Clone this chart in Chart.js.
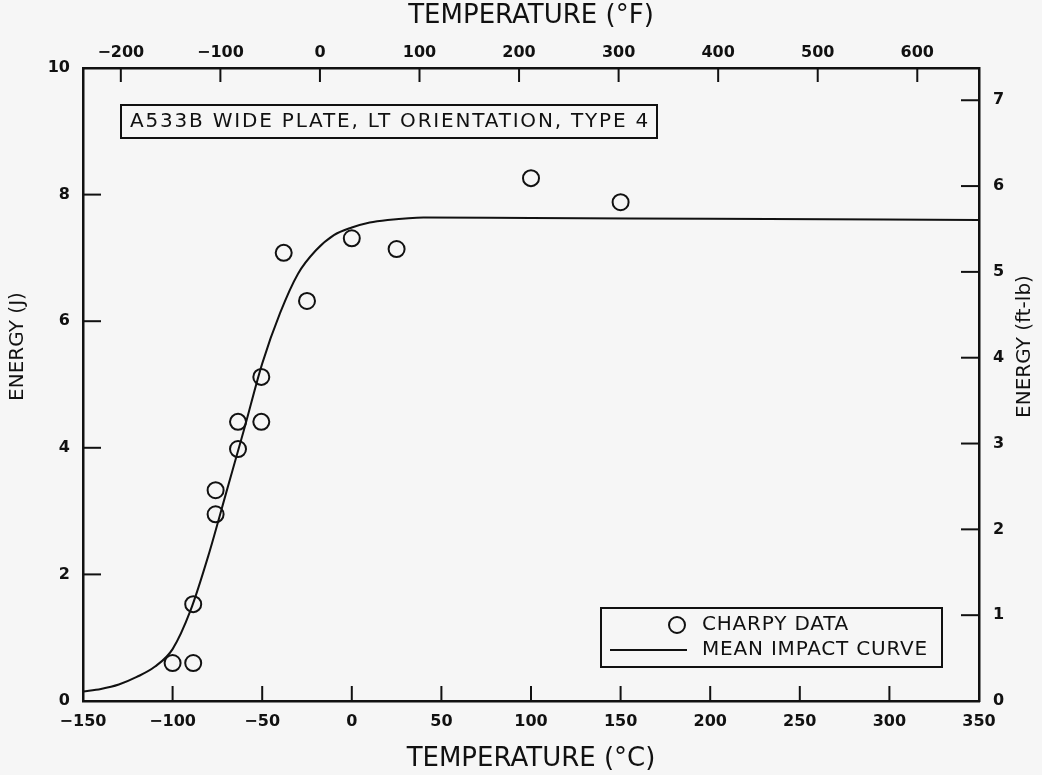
<!DOCTYPE html>
<html>
<head>
<meta charset="utf-8">
<title>Charpy energy vs temperature</title>
<script src="https://cdn.jsdelivr.net/npm/chart.js@4.4.1/dist/chart.umd.min.js"></script>
<style>
  html, body { margin: 0; padding: 0; background: #f6f6f6; }
  #wrap { width: 1042px; height: 775px; }
</style>
</head>
<body>
<div id="wrap"><canvas id="chart" width="1042" height="775"></canvas></div>
<script>
// Charpy test points: temperature (C) and absorbed energy (J)
const charpyTemp   = [-100, -88.5, -88.5, -76, -76, -63.5, -63.5, -50.5, -50.5, -38, -25, 0, 25, 100, 150];
const charpyEnergy = [0.60, 0.60, 1.53, 2.95, 3.33, 3.98, 4.41, 4.41, 5.12, 7.08, 6.32, 7.31, 7.14, 8.26, 7.88];

// mean impact curve
const curveTemp   = [-150, -140, -130, -120, -110, -100, -90, -80, -70, -60, -50, -40, -30, -20, -10, 0, 10, 20, 40, 100, 200, 350];
const curveEnergy = [0.15, 0.19, 0.26, 0.38, 0.54, 0.82, 1.43, 2.3, 3.3, 4.3, 5.33, 6.13, 6.75, 7.12, 7.36, 7.48, 7.56, 7.6, 7.64, 7.63, 7.62, 7.6];

// axis ticks
const celsiusTicks = [-150, -100, -50, 0, 50, 100, 150, 200, 250, 300, 350];
const fahrenheitTicks = [-200, -100, 0, 100, 200, 300, 400, 500, 600];
const jouleTicks = [0, 2, 4, 6, 8, 10];
const ftlbTicks = [0, 1, 2, 3, 4, 5, 6, 7];

const J_PER_FTLB = 1.3558;
const tMin = -150, tMax = 350, eMax = 10;
const toF = c => c * 1.8 + 32;

const ink = '#111';
const FONT = "'DejaVu Sans', sans-serif";
const minus = v => String(v).replace('-', '\u2212');
const setTicks = list => scale => { scale.ticks = list.map(v => ({ value: v })); };

// tick marks point into the plot, as on the original
const innerTicks = {
  id: 'innerTicks',
  afterDatasetsDraw(chart) {
    const { ctx, chartArea: a, scales } = chart;
    ctx.save();
    ctx.strokeStyle = ink;
    ctx.lineWidth = 2;
    const seg = (x1, y1, x2, y2) => { ctx.beginPath(); ctx.moveTo(x1, y1); ctx.lineTo(x2, y2); ctx.stroke(); };
    scales.x.ticks.forEach(t => {
      const p = scales.x.getPixelForValue(t.value);
      if (p > a.left + 2 && p < a.right - 2) seg(p, a.bottom, p, a.bottom - 15);
    });
    scales.x2.ticks.forEach(t => {
      const p = scales.x2.getPixelForValue(t.value);
      if (p > a.left + 2 && p < a.right - 2) seg(p, a.top, p, a.top + 14);
    });
    scales.y.ticks.forEach(t => {
      const p = scales.y.getPixelForValue(t.value);
      if (p > a.top + 2 && p < a.bottom - 2) seg(a.left, p, a.left + 18, p);
    });
    scales.y2.ticks.forEach(t => {
      const p = scales.y2.getPixelForValue(t.value);
      if (p > a.top + 2 && p < a.bottom - 2) seg(a.right, p, a.right - 18, p);
    });
    ctx.restore();
  }
};

// y titles, note box and legend
const decorations = {
  id: 'decorations',
  afterDraw(chart) {
    const { ctx, chartArea: a } = chart;
    const midY = a.top + (a.bottom - a.top) * 0.44;
    ctx.save();
    ctx.fillStyle = ink;
    ctx.strokeStyle = ink;
    ctx.textBaseline = 'middle';

    ctx.font = `20px ${FONT}`;
    ctx.textAlign = 'center';
    [[18, 'ENERGY (J)'], [chart.width - 17, 'ENERGY (ft-lb)']].forEach(([x, s]) => {
      ctx.save();
      ctx.translate(x, midY);
      ctx.rotate(-Math.PI / 2);
      ctx.fillText(s, 0, 0);
      ctx.restore();
    });

    // note box
    ctx.font = `20px ${FONT}`;
    ctx.textAlign = 'left';
    ctx.letterSpacing = '1.8px';
    const note = 'A533B WIDE PLATE, LT ORIENTATION, TYPE 4';
    const nx = a.left + 38, ny = a.top + 37;
    const nw = ctx.measureText(note).width + 16;
    ctx.lineWidth = 2;
    ctx.strokeRect(nx, ny, nw, 33);
    ctx.fillText(note, nx + 9, ny + 17);

    // legend box
    ctx.letterSpacing = '0.8px';
    const ds = chart.data.datasets;
    const lw = 341, lh = 59;
    const lx = a.right - 37 - lw, ly = a.bottom - 34 - lh;
    ctx.strokeRect(lx, ly, lw, lh);
    ctx.lineWidth = ds[0].borderWidth;
    ctx.beginPath();
    ctx.arc(lx + 76, ly + 17, ds[0].pointRadius, 0, Math.PI * 2);
    ctx.stroke();
    ctx.lineWidth = ds[1].borderWidth;
    ctx.beginPath();
    ctx.moveTo(lx + 9, ly + 42);
    ctx.lineTo(lx + 86, ly + 42);
    ctx.stroke();
    ctx.fillText(ds[0].label, lx + 101, ly + 17);
    ctx.fillText(ds[1].label, lx + 101, ly + 42);
    ctx.restore();
  }
};

const axisBorder = { display: true, color: ink, width: 2.5 };
const noGrid = { display: true, drawOnChartArea: false, drawTicks: false };
const tickFont = { family: FONT, size: 16, weight: 'bold' };
const titleFont = { family: FONT, size: 26 };

new Chart(document.getElementById('chart'), {
  type: 'scatter',
  data: {
    datasets: [
      {
        label: 'CHARPY DATA',
        data: charpyTemp.map((t, i) => ({ x: t, y: charpyEnergy[i] })),
        showLine: false,
        pointStyle: 'circle',
        pointRadius: 8,
        borderWidth: 2,
        borderColor: ink,
        backgroundColor: 'rgba(0,0,0,0)',
        order: 1
      },
      {
        label: 'MEAN IMPACT CURVE',
        data: curveTemp.map((t, i) => ({ x: t, y: curveEnergy[i] })),
        showLine: true,
        cubicInterpolationMode: 'monotone',
        pointRadius: 0,
        borderWidth: 2,
        borderColor: ink,
        backgroundColor: ink,
        order: 2
      }
    ]
  },
  options: {
    responsive: false,
    animation: false,
    layout: { padding: 0 },
    plugins: { legend: { display: false }, tooltip: { enabled: false } },
    scales: {
      x: {
        type: 'linear', position: 'bottom', min: tMin, max: tMax,
        afterBuildTicks: setTicks(celsiusTicks),
        afterFit: s => { s.height = 74; },
        grid: noGrid, border: axisBorder,
        ticks: { color: ink, font: tickFont, padding: 11, maxRotation: 0, callback: minus },
        title: { display: true, text: 'TEMPERATURE (\u00b0C)', color: ink, font: titleFont, padding: { top: 2, bottom: 0 } }
      },
      x2: {
        type: 'linear', position: 'top', min: toF(tMin), max: toF(tMax),
        afterBuildTicks: setTicks(fahrenheitTicks),
        afterFit: s => { s.height = 68; },
        grid: noGrid, border: axisBorder,
        ticks: { color: ink, font: tickFont, padding: 6, maxRotation: 0, callback: minus },
        title: { display: true, text: 'TEMPERATURE (\u00b0F)', color: ink, font: titleFont, padding: { top: 1, bottom: 0 } }
      },
      y: {
        type: 'linear', position: 'left', min: 0, max: eMax,
        afterBuildTicks: setTicks(jouleTicks),
        afterFit: s => { s.width = 83; },
        grid: noGrid, border: axisBorder,
        ticks: { color: ink, font: tickFont, padding: 13 }
      },
      y2: {
        type: 'linear', position: 'right', min: 0, max: eMax / J_PER_FTLB,
        afterBuildTicks: setTicks(ftlbTicks),
        afterFit: s => { s.width = 63; },
        grid: noGrid, border: axisBorder,
        ticks: { color: ink, font: tickFont, padding: 14 }
      }
    }
  },
  plugins: [innerTicks, decorations]
});
</script>
</body>
</html>
